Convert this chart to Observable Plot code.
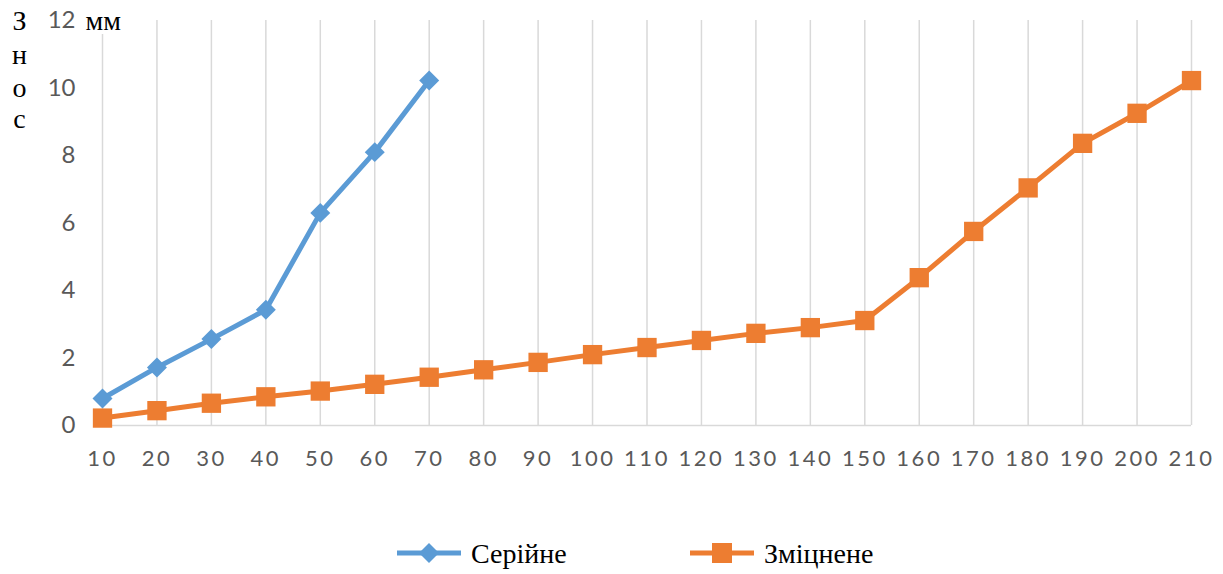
<!DOCTYPE html>
<html>
<head>
<meta charset="utf-8">
<script src="https://cdn.jsdelivr.net/npm/d3@7"></script>
<script src="https://cdn.jsdelivr.net/npm/@observablehq/plot@0.6"></script>
<style>
  html, body { margin: 0; padding: 0; background: #fff; }
  #wrap { position: relative; width: 1223px; height: 574px; }
  #chart svg { display: block; }
  g[aria-label="x-axis tick label"] text { letter-spacing: 2.5px; }
  .legend { position: absolute; left: 0; top: 526px; width: 1223px; height: 48px; }
  .legend .item { position: absolute; top: 0; height: 54px; display: flex; align-items: center; }
  .legend svg { display: block; }
  .legend span { font-family: "Liberation Serif", "Times New Roman", serif; font-size: 28px; color: #000; margin-left: 10px; line-height: 1; position: relative; top: 1px; }
</style>
</head>
<body>
<div id="wrap">
  <div id="chart"></div>
  <div class="legend" id="legend"></div>
</div>
<script>
// Speed categories along the horizontal axis
const speeds = [10, 20, 30, 40, 50, 60, 70, 80, 90, 100, 110, 120, 130, 140, 150, 160, 170, 180, 190, 200, 210];

// Wear, mm
const serialWear = [0.8, 1.72, 2.56, 3.43, 6.3, 8.1, 10.22];
const hardenedWear = [0.22, 0.44, 0.66, 0.85, 1.02, 1.22, 1.43, 1.65, 1.87, 2.1, 2.31, 2.52, 2.73, 2.9, 3.11, 4.38, 5.75, 7.04, 8.36, 9.25, 10.22];

const yTicks = [0, 2, 4, 6, 8, 10, 12];
const seriesNames = ["Серійне", "Зміцнене"];
const seriesColors = ["#5B9BD5", "#ED7D31"];
const axisLetters = ["З", "н", "о", "с"];

const serialData = serialWear.map((v, i) => ({x: speeds[i], y: v}));
const hardenedData = hardenedWear.map((v, i) => ({x: speeds[i], y: v}));

const serif = "'Liberation Serif', 'Times New Roman', serif";
const letterOffsets = [21, 55, 88, 119];

const chart = Plot.plot({
  width: 1223,
  height: 520,
  marginLeft: 102,
  marginRight: 32,
  marginTop: 20,
  marginBottom: 95,
  x: {domain: [10, 210]},
  y: {domain: [0, 12]},
  style: {fontFamily: "Lato, 'Open Sans', sans-serif", fontSize: "22px", color: "#595959", background: "#fff"},
  marks: [
    Plot.ruleX(speeds, {y1: 0, y2: 12, stroke: "#d9d9d9", strokeWidth: 1.5}),
    Plot.ruleY([0], {stroke: "#d9d9d9", strokeWidth: 1.5}),
    Plot.axisX({ticks: speeds, tickSize: 0, tickPadding: 25, tickFormat: d => String(d), label: null, fill: "#595959", fontSize: 22}),
    Plot.axisY({ticks: yTicks, tickSize: 0, tickPadding: 27, label: null, fill: "#595959", fontSize: 24}),
    Plot.line(serialData, {x: "x", y: "y", stroke: seriesColors[0], strokeWidth: 5}),
    Plot.dot(serialData, {x: "x", y: "y", symbol: "diamond2", r: 9, fill: seriesColors[0], stroke: null}),
    Plot.line(hardenedData, {x: "x", y: "y", stroke: seriesColors[1], strokeWidth: 5}),
    Plot.dot(hardenedData, {x: "x", y: "y", symbol: "square", r: 10.9, fill: seriesColors[1], stroke: null}),
    // unit next to the top tick
    Plot.text(["мм"], {
      text: d => d, frameAnchor: "top-left", lineAnchor: "middle", dx: -17, dy: 1,
      textAnchor: "start", fontFamily: serif, fontSize: 28, fill: "#000",
      stroke: "#fff", strokeWidth: 8
    }),
    // vertical axis title, one letter per line
    ...axisLetters.map((ch, i) => Plot.text([ch], {
      text: d => d, frameAnchor: "top-left", lineAnchor: "middle", dx: -83, dy: letterOffsets[i] - 20,
      textAnchor: "middle", fontFamily: serif, fontSize: 28, fill: "#000"
    }))
  ]
});
document.getElementById("chart").appendChild(chart);

// Legend below the chart
const legend = d3.select("#legend");
const legendX = [397, 690];
seriesNames.forEach((name, i) => {
  const item = legend.append("div").attr("class", "item").style("left", legendX[i] + "px");
  const sw = item.append("svg").attr("width", 64).attr("height", 24);
  sw.append("line").attr("x1", 0).attr("x2", 64).attr("y1", 12).attr("y2", 12)
    .attr("stroke", seriesColors[i]).attr("stroke-width", 5).attr("stroke-linecap", "round");
  if (i === 0) {
    sw.append("path").attr("d", "M32,2 L42,12 L32,22 L22,12 Z").attr("fill", seriesColors[i]);
  } else {
    sw.append("rect").attr("x", 22).attr("y", 2).attr("width", 20).attr("height", 20).attr("fill", seriesColors[i]);
  }
  item.append("span").text(name);
});
</script>
</body>
</html>
